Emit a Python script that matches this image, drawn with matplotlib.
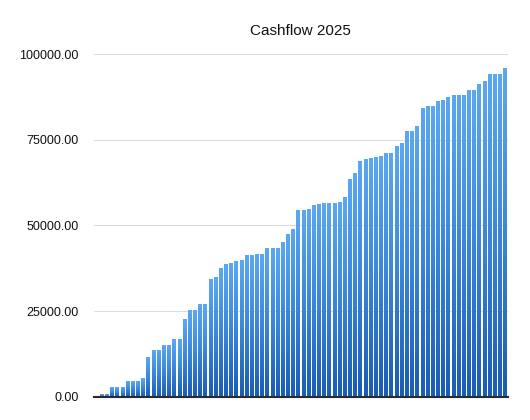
import matplotlib.pyplot as plt
import matplotlib.colors as colors
import matplotlib.ticker as tick
import numpy as np

# cumulative cashflow, one bar per entry
cashflow = [
    0, 700, 790, 2750, 2920, 2920, 4500, 4670, 4670, 5370,
    11600, 13640, 13730, 15100, 15190, 16850, 16850, 22600, 25230, 25410,
    26990, 27070, 34380, 35050, 37500, 38760, 39050, 39550, 39840, 41390,
    41390, 41680, 41770, 43430, 43430, 43430, 45270, 47430, 49070, 54440,
    54530, 54820, 55990, 56370, 56490, 56570, 56660, 56950, 58240, 63490,
    65420, 68750, 69420, 69630, 69920, 70390, 71090, 71260, 73130, 74010,
    77690, 77690, 78970, 84410, 84810, 84900, 86270, 86570, 87620, 88030,
    88030, 88120, 89490, 89490, 91330, 92290, 94160, 94160, 94250, 96000,
]
title = 'Cashflow 2025'
yticks = [0, 25000, 50000, 75000, 100000]


def main():
    plt.rcParams['font.family'] = ['Liberation Sans', 'DejaVu Sans']

    fig = plt.figure(figsize=(5.3, 4.2), dpi=100)
    ax = fig.add_axes([0.1772, 0.0555, 0.7804, 0.8152])

    n = len(cashflow)
    x = np.arange(n)
    width = 0.66

    bars = ax.bar(x, cashflow, width=width, color='none', edgecolor='none', zorder=2)

    # vertical gradient inside each bar: light on top, dark at the bottom
    cmap = colors.LinearSegmentedColormap.from_list('blues', ['#1a5cb6', '#3b86dc', '#5aa8f2'])
    grad = np.linspace(0, 1, 64).reshape(-1, 1)
    for b, v in zip(bars, cashflow):
        if v <= 0:
            continue
        x0 = b.get_x()
        im = ax.imshow(grad, extent=[x0, x0 + width, 0, v], origin='lower',
                       aspect='auto', cmap=cmap, zorder=2, interpolation='bilinear')
        im.set_clip_path(b)

    ax.set_xlim(-0.5, n - 0.5)
    ax.set_ylim(0, 100000)

    # axes style
    for s in ['top', 'right', 'left']:
        ax.spines[s].set_visible(False)
    ax.spines['bottom'].set_color('#2b2b2b')
    ax.spines['bottom'].set_linewidth(1.5)
    ax.spines['bottom'].set_zorder(3)

    ax.set_xticks([])
    ax.set_yticks(yticks)
    ax.yaxis.set_major_formatter(tick.FormatStrFormatter('%.2f'))
    ax.tick_params(axis='y', length=0, pad=11, labelsize=9, labelcolor='#111111')
    ax.yaxis.grid(True, color='#dcdcdc', linewidth=0.8, zorder=0)
    ax.set_axisbelow(True)

    ax.set_title(title, fontsize=11, pad=14, color='#111111')

    fig.savefig('out.png', dpi=100)


if __name__ == '__main__':
    main()
